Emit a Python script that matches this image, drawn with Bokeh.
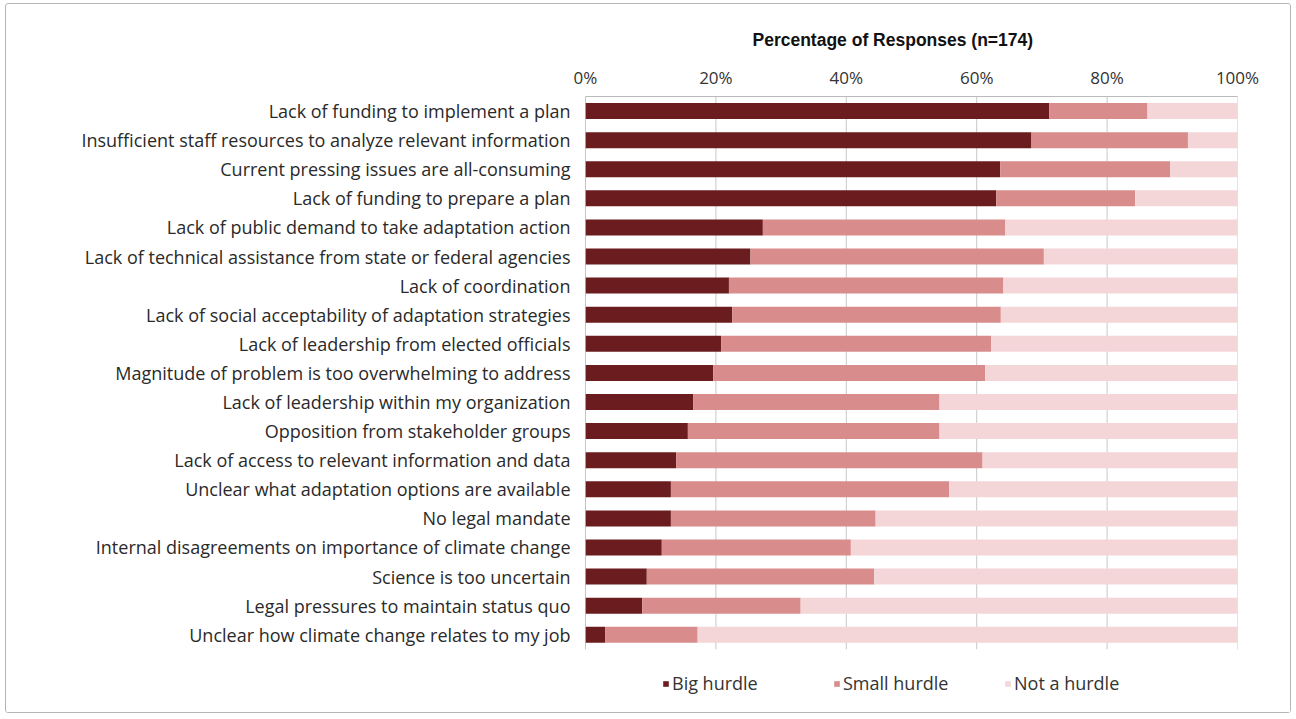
from bokeh.plotting import figure
from bokeh.models import ColumnDataSource, FactorRange, Legend, FixedTicker
from bokeh.embed import file_html
from bokeh.resources import INLINE

categories = [
    "Lack of funding to implement a plan",
    "Insufficient staff resources to analyze relevant information",
    "Current pressing issues are all-consuming",
    "Lack of funding to prepare a plan",
    "Lack of public demand to take adaptation action",
    "Lack of technical assistance from state or federal agencies",
    "Lack of coordination",
    "Lack of social acceptability of adaptation strategies",
    "Lack of leadership from elected officials",
    "Magnitude of problem is too overwhelming to address",
    "Lack of leadership within my organization",
    "Opposition from stakeholder groups",
    "Lack of access to relevant information and data",
    "Unclear what adaptation options are available",
    "No legal mandate",
    "Internal disagreements on importance of climate change",
    "Science is too uncertain",
    "Legal pressures to maintain status quo",
    "Unclear how climate change relates to my job",
]
big_hurdle = [71.1, 68.4, 63.6, 63.0, 27.2, 25.3, 22.0, 22.5, 20.8, 19.6, 16.5, 15.7, 13.9, 13.1, 13.1, 11.7, 9.4, 8.7, 3.0]
small_hurdle = [15.1, 24.0, 26.1, 21.3, 37.2, 45.0, 42.1, 41.2, 41.4, 41.7, 37.8, 38.6, 47.0, 42.7, 31.4, 29.0, 34.9, 24.3, 14.2]
not_hurdle = [13.8, 7.6, 10.3, 15.7, 35.6, 29.7, 35.9, 36.3, 37.8, 38.7, 45.7, 45.7, 39.1, 44.2, 55.5, 59.3, 55.7, 67.0, 82.8]
series = ["Big hurdle", "Small hurdle", "Not a hurdle"]
colors = ["#6b1c1e", "#d98c8c", "#f4d6d9"]
x_ticks = [0, 20, 40, 60, 80, 100]
tick_labels = ["0%", "20%", "40%", "60%", "80%", "100%"]

source = ColumnDataSource(dict(cat=categories, big=big_hurdle, small=small_hurdle, notb=not_hurdle))

FONT = "Open Sans"
TITLE_FONT = "Liberation Sans"

# two blank factors at the bottom leave room for the legend inside the frame
blank = [" ", "  "]
n_blank = len(blank)
factors = blank + list(reversed(categories))

p = figure(
    width=1286, height=710,
    y_range=FactorRange(*factors, range_padding=0),
    x_range=(0, 100),
    x_axis_location="above",
    output_backend="svg", toolbar_location=None,
    min_border_left=579, min_border_right=55, min_border_top=92, min_border_bottom=7,
)
p.styles = {"border": "1px solid #b5b5b5", "border-radius": "3px",
            "margin-left": "5px", "margin-top": "3px"}

# vertical grid lines spanning only the category rows
grid_src = ColumnDataSource(dict(x=x_ticks, y0=[n_blank] * len(x_ticks),
                                 y1=[n_blank + len(categories)] * len(x_ticks)))
p.segment(x0="x", x1="x", y0="y0", y1="y1", source=grid_src, line_color="#c8c8c8", line_width=1)
p.segment(x0=[x_ticks[0]], x1=[x_ticks[0]], y0=[n_blank], y1=[n_blank + len(categories)],
          line_color="#a8a8a8", line_width=1)

rs = p.hbar_stack(["big", "small", "notb"], y="cat", height=0.55, color=colors,
                  source=source, line_color=None)

p.outline_line_color = None
p.xgrid.grid_line_color = None
p.ygrid.grid_line_color = None

xa = p.xaxis[0]
xa.ticker = FixedTicker(ticks=x_ticks)
xa.major_label_overrides = {t: l for t, l in zip(x_ticks, tick_labels)}
xa.major_label_text_font = FONT
xa.major_label_text_font_size = "17px"
xa.major_label_text_color = "#333333"
xa.major_tick_line_color = None
xa.minor_tick_line_color = None
xa.axis_line_color = "#bbbbbb"
xa.major_label_standoff = 2

ya = p.yaxis[0]
ya.major_label_text_font = FONT
ya.major_label_text_font_size = "18px"
ya.major_label_text_color = "#2a2a2a"
ya.major_tick_line_color = None
ya.axis_line_color = None
ya.major_label_standoff = 9

p.title.text = "Percentage of Responses (n=174)"
p.title.text_font = TITLE_FONT
p.title.text_font_size = "17.5px"
p.title.text_font_style = "bold"
p.title.text_color = "#111111"
p.title.align = "left"
p.title.offset = 167
p.title.standoff = 26

legend = Legend(items=[(s, [r]) for s, r in zip(series, rs)], orientation="horizontal",
                location=(77, 12))
legend.label_text_font = FONT
legend.label_text_font_size = "18px"
legend.label_text_color = "#333333"
legend.glyph_width = 7
legend.glyph_height = 7
legend.label_standoff = 3
legend.label_width = 158
legend.spacing = 3
legend.padding = 0
legend.margin = 0
legend.border_line_color = None
legend.background_fill_alpha = 0
p.add_layout(legend, "center")

open("out.html", "w").write(file_html(p, INLINE))
